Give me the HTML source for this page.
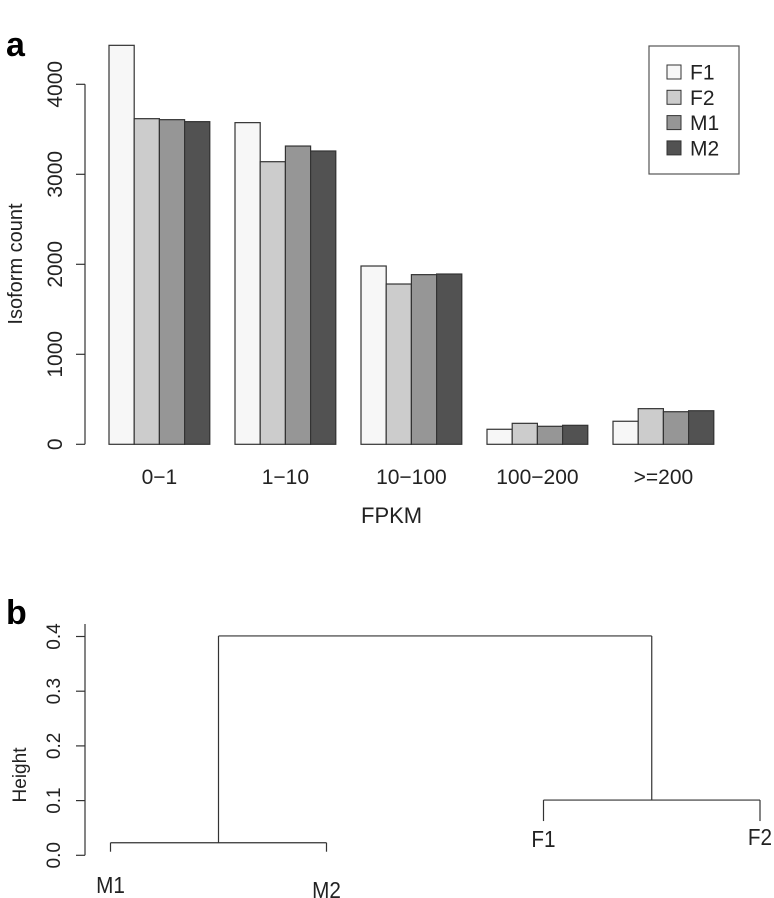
<!DOCTYPE html>
<html><head><meta charset="utf-8"><style>
html,body{margin:0;padding:0;background:#fff;}
svg{display:block;font-family:"Liberation Sans",Arial,sans-serif;}
</style></head><body>
<svg id="chart" width="774" height="898" viewBox="0 0 774 898" xmlns="http://www.w3.org/2000/svg">
<text x="6" y="56" font-size="34" font-weight="bold">a</text>
<text x="6" y="624" font-size="34" font-weight="bold">b</text>
<g id="barChart"></g>
<g id="dendro"></g>
</svg>
<script>
const categories = ["0\u22121","1\u221210","10\u2212100","100\u2212200",">=200"];
const seriesNames = ["F1","F2","M1","M2"];
const seriesColors = ["#f7f7f7","#cccccc","#969696","#525252"];
const F1 = [4433,3574,1981,167,256];
const F2 = [3618,3140,1781,233,396];
const M1 = [3607,3314,1885,200,362];
const M2 = [3585,3259,1892,211,373];
const yTicks = [0,1000,2000,3000,4000];
const dendroTicks = [0.0,0.1,0.2,0.3,0.4];
const leafNames = ["M1","M2","F1","F2"];
const mergeM = 0.023;
const mergeF = 0.101;
const mergeTop = 0.401;

const NS="http://www.w3.org/2000/svg";
function mk(tag, attrs, parent){const e=document.createElementNS(NS,tag);for(const k in attrs)e.setAttribute(k,attrs[k]);parent.appendChild(e);return e;}

// ---- bar chart ----
const bc=document.getElementById('barChart');
const y=v=>444.3-v*0.09;
const barW=25.2, x0=109;
const xBar=(g,s)=>x0+g*5*barW+s*barW;
const series=[F1,F2,M1,M2];
let e=mk('line',{x1:85,x2:85,y1:y(4000),y2:y(0),stroke:'#333','stroke-width':1.2},bc);


yTicks.forEach(t=>{
  let l=mk('line',{x1:76,x2:85,y1:y(t),y2:y(t),stroke:'#333','stroke-width':1.2},bc);
  
  
  let tx=mk('text',{x:0,y:0,'font-size':21,fill:'#222','text-anchor':'middle',transform:`translate(62,${y(t)}) rotate(-90)`},bc);
  tx.textContent=t;
  
  
});
e=mk('text',{x:0,y:0,'font-size':20,fill:'#222','text-anchor':'middle',transform:'translate(22,264) rotate(-90)'},bc);
e.textContent='Isoform count';


categories.forEach((c,g)=>{
  series.forEach((arr,s)=>{
    let r=mk('rect',{x:xBar(g,s),y:y(arr[g]),width:barW,height:y(0)-y(arr[g]),fill:seriesColors[s],stroke:'#333','stroke-width':1.2},bc);
    
    
  });
  let tx=mk('text',{x:xBar(g,2),y:484,'font-size':21,fill:'#222','text-anchor':'middle'},bc);
  tx.textContent=c;
  
  
});
e=mk('text',{x:361,y:523,'font-size':22,fill:'#222'},bc);
e.textContent='FPKM';


// legend
e=mk('rect',{x:649,y:46,width:90,height:128,fill:'#fff',stroke:'#555','stroke-width':1.2},bc);


seriesNames.forEach((n,i)=>{
  const cy=72+i*25.3;
  let r=mk('rect',{x:667,y:cy-7,width:14,height:14,fill:seriesColors[i],stroke:'#333','stroke-width':1},bc);
  
  
  let t=mk('text',{x:690,y:cy+7.5,'font-size':21,fill:'#222'},bc);
  t.textContent=n;
  
  
});

// ---- dendrogram ----
const dg=document.getElementById('dendro');
const dy=v=>855.3-v*547;
const leafX=[110.5,326.5,543.5,760];
e=mk('line',{x1:85,x2:85,y1:624,y2:dy(0),stroke:'#333','stroke-width':1.2},dg);


dendroTicks.forEach(t=>{
  let l=mk('line',{x1:76,x2:85,y1:dy(t),y2:dy(t),stroke:'#333','stroke-width':1.2},dg);
  
  
  let tx=mk('text',{x:0,y:0,'font-size':19,fill:'#222','text-anchor':'middle',transform:`translate(60,${dy(t)}) rotate(-90)`},dg);
  tx.textContent=t.toFixed(1);
  
  
});
e=mk('text',{x:0,y:0,'font-size':19,fill:'#222','text-anchor':'middle',transform:'translate(26,775) rotate(-90)'},dg);
e.textContent='Height';


const mMid=(leafX[0]+leafX[1])/2, fMid=(leafX[2]+leafX[3])/2;
const segs=[
 [leafX[0],dy(mergeM)+9,leafX[0],dy(mergeM)],[leafX[1],dy(mergeM)+9,leafX[1],dy(mergeM)],[leafX[0],dy(mergeM),leafX[1],dy(mergeM)],
 [leafX[2],dy(mergeF)+21,leafX[2],dy(mergeF)],[leafX[3],dy(mergeF)+21,leafX[3],dy(mergeF)],[leafX[2],dy(mergeF),leafX[3],dy(mergeF)],
 [mMid,dy(mergeM),mMid,dy(mergeTop)],[fMid,dy(mergeF),fMid,dy(mergeTop)],[mMid,dy(mergeTop),fMid,dy(mergeTop)]
];
segs.forEach(s=>{
  let l=mk('line',{x1:s[0],y1:s[1],x2:s[2],y2:s[3],stroke:'#333','stroke-width':1.2},dg);
  
  
});
const leafLabelY=[893,898,847,845];
leafNames.forEach((n,i)=>{
  let t=mk('text',{x:leafX[i],y:leafLabelY[i],'font-size':23,fill:'#222','text-anchor':'middle',transform:`translate(${leafX[i]*0.1},0) scale(0.9,1)`},dg);
  t.textContent=n;
  
  
});
</script>
</body></html>
